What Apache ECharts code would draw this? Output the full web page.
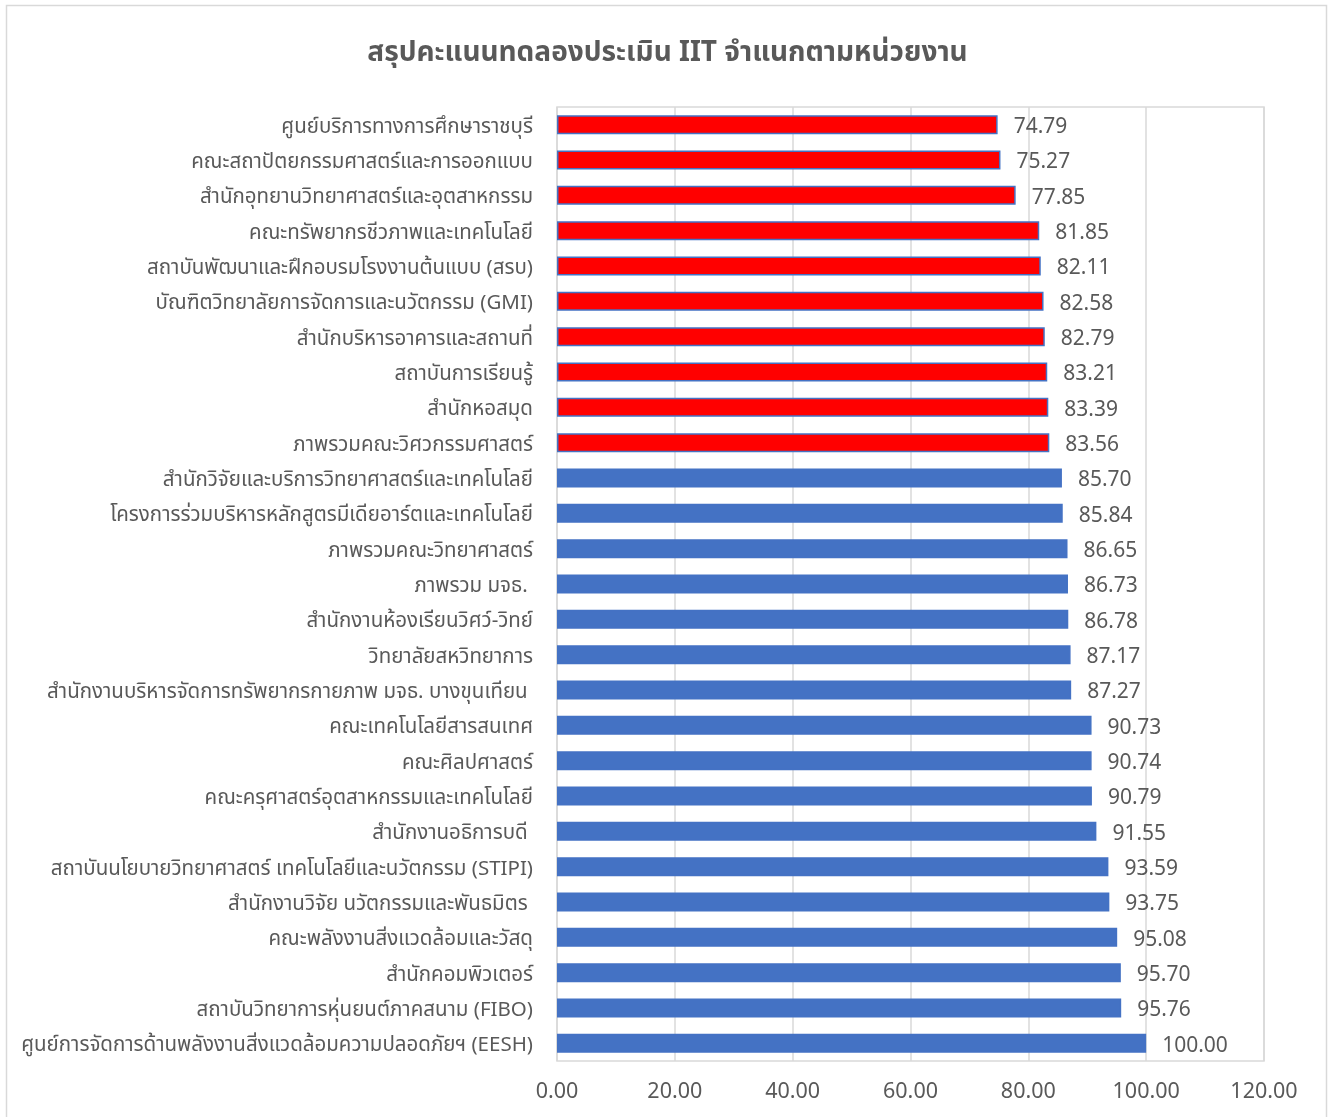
<!DOCTYPE html>
<html>
<head>
<meta charset="utf-8">
<script src="https://cdn.jsdelivr.net/npm/echarts@6/dist/echarts.min.js"></script>
<style>
html,body{margin:0;padding:0;background:#fff;}
#chart{width:1335px;height:1117px;}
</style>
</head>
<body>
<div id="chart"></div>
<script>
const titleText = 'สรุปคะแนนทดลองประเมิน IIT จำแนกตามหน่วยงาน';
const categories = [
  'ศูนย์บริการทางการศึกษาราชบุรี',
  'คณะสถาปัตยกรรมศาสตร์และการออกแบบ',
  'สำนักอุทยานวิทยาศาสตร์และอุตสาหกรรม',
  'คณะทรัพยากรชีวภาพและเทคโนโลยี',
  'สถาบันพัฒนาและฝึกอบรมโรงงานต้นแบบ (สรบ)',
  'บัณฑิตวิทยาลัยการจัดการและนวัตกรรม (GMI)',
  'สำนักบริหารอาคารและสถานที่',
  'สถาบันการเรียนรู้',
  'สำนักหอสมุด',
  'ภาพรวมคณะวิศวกรรมศาสตร์',
  'สำนักวิจัยและบริการวิทยาศาสตร์และเทคโนโลยี',
  'โครงการร่วมบริหารหลักสูตรมีเดียอาร์ตและเทคโนโลยี',
  'ภาพรวมคณะวิทยาศาสตร์',
  'ภาพรวม มจธ. ',
  'สำนักงานห้องเรียนวิศว์-วิทย์',
  'วิทยาลัยสหวิทยาการ',
  'สำนักงานบริหารจัดการทรัพยากรกายภาพ มจธ. บางขุนเทียน ',
  'คณะเทคโนโลยีสารสนเทศ',
  'คณะศิลปศาสตร์',
  'คณะครุศาสตร์อุตสาหกรรมและเทคโนโลยี',
  'สำนักงานอธิการบดี ',
  'สถาบันนโยบายวิทยาศาสตร์ เทคโนโลยีและนวัตกรรม (STIPI)',
  'สำนักงานวิจัย นวัตกรรมและพันธมิตร ',
  'คณะพลังงานสิ่งแวดล้อมและวัสดุ',
  'สำนักคอมพิวเตอร์',
  'สถาบันวิทยาการหุ่นยนต์ภาคสนาม (FIBO)',
  'ศูนย์การจัดการด้านพลังงานสิ่งแวดล้อมความปลอดภัยฯ (EESH)'
];
const scores = [74.79, 75.27, 77.85, 81.85, 82.11, 82.58, 82.79, 83.21, 83.39, 83.56,
  85.70, 85.84, 86.65, 86.73, 86.78, 87.17, 87.27, 90.73, 90.74, 90.79,
  91.55, 93.59, 93.75, 95.08, 95.70, 95.76, 100.00];
const xTicks = [0, 20, 40, 60, 80, 100, 120];
const flaggedCount = 10; // first N units highlighted in red

const FONT = "Tahoma, 'Noto Sans Thai', 'Noto Sans', 'DejaVu Sans', sans-serif";
const chart = echarts.init(document.getElementById('chart'));
chart.setOption({
  backgroundColor: '#fff',
  animation: false,
  textStyle: { fontFamily: FONT },
  title: {
    text: titleText,
    left: 'center',
    top: 36,
    textStyle: { fontFamily: FONT, fontSize: 28, fontWeight: 'bold', color: '#595959' }
  },
  graphic: [{
    type: 'rect',
    shape: { x: 6.5, y: 5.5, width: 1320, height: 1120 },
    style: { fill: 'none', stroke: '#d9d9d9', lineWidth: 1.5 },
    silent: true
  }],
  grid: { left: 557, right: 71, top: 107, bottom: 56, containLabel: false,
    show: true, borderColor: '#d9d9d9', borderWidth: 1.5 },
  xAxis: {
    type: 'value',
    min: xTicks[0],
    max: xTicks[xTicks.length - 1],
    interval: 20,
    axisLine: { show: false },
    axisTick: { show: false },
    splitLine: { show: true, lineStyle: { color: '#d9d9d9', width: 1.5 } },
    axisLabel: {
      margin: 22,
      fontSize: 21.5,
      color: '#595959',
      fontFamily: FONT,
      formatter: v => v.toFixed(2)
    }
  },
  yAxis: {
    type: 'category',
    inverse: true,
    data: categories,
    axisLine: { show: false },
    axisTick: { show: false },
    axisLabel: { fontSize: 20.5, color: '#595959', margin: 24, fontFamily: FONT,
      verticalAlign: 'top', lineHeight: 8 }
  },
  series: [{
    type: 'bar',
    data: scores,
    barCategoryGap: '46%',
    itemStyle: {
      color: p => p.dataIndex < flaggedCount ? '#ff0000' : '#4472c4',
      borderColor: '#4472c4',
      borderWidth: 1.5
    },
    label: {
      show: true,
      position: 'right',
      distance: 16,
      offset: [0, 4],
      fontSize: 21,
      color: '#595959',
      fontFamily: FONT,
      formatter: p => p.value.toFixed(2)
    }
  }]
});
</script>
</body>
</html>
